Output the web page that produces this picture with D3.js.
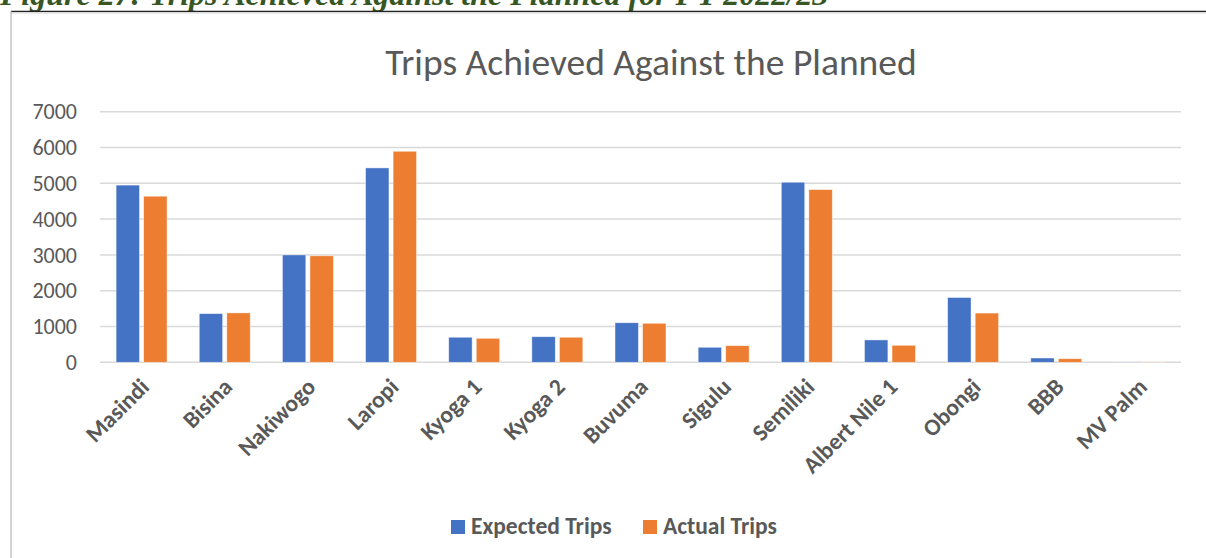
<!DOCTYPE html>
<html>
  <head>
    <meta charset="utf-8">
    <script src="https://d3js.org/d3.v7.min.js"></script>
    <style>
      body {
        margin: 0;
        background-color: #ffffff;
      }
      svg {
        display: block;
        font-family: Carlito, Calibri, Lato, sans-serif;
      }
      .grid line {
        stroke: #d9d9d9;
        stroke-width: 1.5;
      }
      .tick-label {
        fill: #595959;
        font-size: 22px;
      }
      .cat-label {
        fill: #595959;
        font-size: 23.5px;
        font-weight: bold;
      }
    </style>
  </head>

  <body>
    <script>
      // categories and series
      const routes = ["Masindi","Bisina","Nakiwogo","Laropi","Kyoga 1","Kyoga 2","Buvuma",
        "Sigulu","Semiliki","Albert Nile 1","Obongi","BBB","MV Palm"]
      const expectedTrips = [4950,1360,3000,5430,700,715,1105,420,5030,625,1810,120,6]
      const actualTrips = [4640,1380,2975,5895,670,700,1090,465,4825,475,1375,100,5]
      const seriesNames = ["Expected Trips","Actual Trips"]
      const yTicks = [0,1000,2000,3000,4000,5000,6000,7000]

      const colors = ["#4472c4","#ed7d31"]
      const w = 1206
      const h = 558
      const plot = {left: 100, right: 1181, top: 111.7, bottom: 362.3}

      const svg = d3.select("body")
        .append("svg")
          .attr("width",w)
          .attr("height",h)

      // figure caption, cut off by the top edge as in the source
      svg.append("text")
        .attr("x",0)
        .attr("y",5)
        .attr("fill","#375623")
        .style("font-family","'Liberation Serif', serif")
        .style("font-style","italic")
        .style("font-weight","bold")
        .style("font-size","32px")
        .text("Figure 27: Trips Achieved Against the Planned for FY 2022/23")

      // chart frame
      svg.append("line")
        .attr("x1",11).attr("x2",w).attr("y1",11.5).attr("y2",11.5)
        .attr("stroke","#222").attr("stroke-width",1.5)
      svg.append("line")
        .attr("x1",w).attr("x2",11).attr("y1",13).attr("y2",13)
        .attr("stroke","#e3e3e3").attr("stroke-width",1.5)
      svg.append("line")
        .attr("x1",11).attr("x2",11).attr("y1",11).attr("y2",h)
        .attr("stroke","#a6a6a6").attr("stroke-width",1)

      svg.append("text")
        .attr("x",651)
        .attr("y",75)
        .attr("text-anchor","middle")
        .attr("fill","#595959")
        .style("font-size","37.5px")
        .text("Trips Achieved Against the Planned")

      const yScale = d3.scaleLinear()
        .domain([0,7000])
        .range([plot.bottom,plot.top])

      const x0 = d3.scaleBand()
        .domain(routes)
        .range([plot.left,plot.right])
        .paddingInner(0.387)
        .paddingOuter(0.1935)
      const x1 = d3.scaleBand()
        .domain(seriesNames)
        .range([0,x0.bandwidth()])
        .paddingInner(0.15)

      // gridlines
      svg.append("g")
        .attr("class","grid")
        .selectAll("line")
        .data(yTicks)
        .enter()
        .append("line")
          .attr("x1",plot.left)
          .attr("x2",plot.right)
          .attr("y1",(d) => yScale(d))
          .attr("y2",(d) => yScale(d))

      svg.append("g")
        .selectAll("text")
        .data(yTicks)
        .enter()
        .append("text")
          .attr("class","tick-label")
          .attr("x",plot.left - 23)
          .attr("y",(d) => yScale(d))
          .attr("dy","0.35em")
          .attr("text-anchor","end")
          .text((d) => d)

      // bars
      const rows = routes.map((r,i) => ({route: r, values: [expectedTrips[i],actualTrips[i]]}))
      const groups = svg.append("g")
        .selectAll("g")
        .data(rows)
        .enter()
        .append("g")
          .attr("transform",(d) => "translate(" + x0(d.route) + ",0)")
      groups.selectAll("rect")
        .data((d) => d.values.map((v,j) => ({name: seriesNames[j], value: v, j: j})))
        .enter()
        .append("rect")
          .attr("x",(d) => x1(d.name))
          .attr("width",x1.bandwidth())
          .attr("y",(d) => yScale(d.value))
          .attr("height",(d) => yScale(0) - yScale(d.value))
          .attr("fill",(d) => colors[d.j])
          .attr("stroke","#ffffff")
          .attr("stroke-opacity",0.6)
          .attr("stroke-width",0.75)

      // rotated category labels
      svg.append("g")
        .selectAll("text")
        .data(routes)
        .enter()
        .append("text")
          .attr("class","cat-label")
          .attr("text-anchor","end")
          .attr("transform",(d) => "translate(" + (x0(d) + x0.bandwidth() / 2 + 9) + "," + (plot.bottom + 26) + ") rotate(-45)")
          .text((d) => d)

      // legend
      const legend = svg.append("g")
        .attr("transform","translate(451,520)")
      const legendX = [0,192]
      seriesNames.forEach((name,i) => {
        legend.append("rect")
          .attr("x",legendX[i])
          .attr("y",0)
          .attr("width",14)
          .attr("height",14)
          .attr("fill",colors[i])
        legend.append("text")
          .attr("x",legendX[i] + 20)
          .attr("y",14)
          .attr("fill","#595959")
          .style("font-size","23.5px")
          .style("font-weight","bold")
          .text(name)
      })
    </script>
  </body>
</html>
